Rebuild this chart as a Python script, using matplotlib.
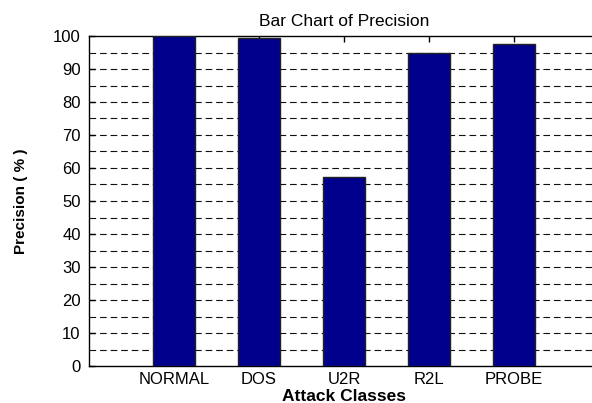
import matplotlib.pyplot as plt
import numpy as np

plt.rcParams['font.family'] = ['Liberation Sans', 'DejaVu Sans']

classes = ['NORMAL', 'DOS', 'U2R', 'R2L', 'PROBE']
precision = [99.9, 99.3, 57.4, 94.9, 97.5]

fig = plt.figure(figsize=(5.92, 4.03), dpi=100)
ax = fig.add_axes([89 / 592, 37 / 403, 510 / 592, 330 / 403])

x = np.arange(1, len(classes) + 1)
ax.bar(x, precision, width=0.5, color='#00008C', edgecolor='#222222',
       linewidth=1.0, zorder=3)

ax.set_xlim(0, 6)
ax.set_ylim(0, 100)
ax.set_xticks(x)
ax.set_xticklabels(classes, fontsize=12)
ax.set_yticks(np.arange(0, 101, 10))
ax.set_yticklabels([str(v) for v in range(0, 101, 10)], fontsize=12)

# dashed grid every 5 units
for yv in np.arange(5, 100, 5):
    ax.axhline(yv, color='#111111', linestyle=(0, (6, 3.5)), linewidth=0.8, zorder=1)

ax.tick_params(direction='in', top=True, right=True, length=4, width=1)
ax.tick_params(axis='y', pad=6)
ax.tick_params(axis='x', pad=4)
for s in ax.spines.values():
    s.set_linewidth(1.0)

ax.set_title('Bar Chart of Precision', fontsize=12.5, pad=7)
ax.set_xlabel('Attack Classes', fontsize=12.5, fontweight='bold', labelpad=2)
ax.set_ylabel('Precision ( % )', fontsize=11, fontweight='bold', labelpad=18)

fig.savefig('out.png', dpi=100)
